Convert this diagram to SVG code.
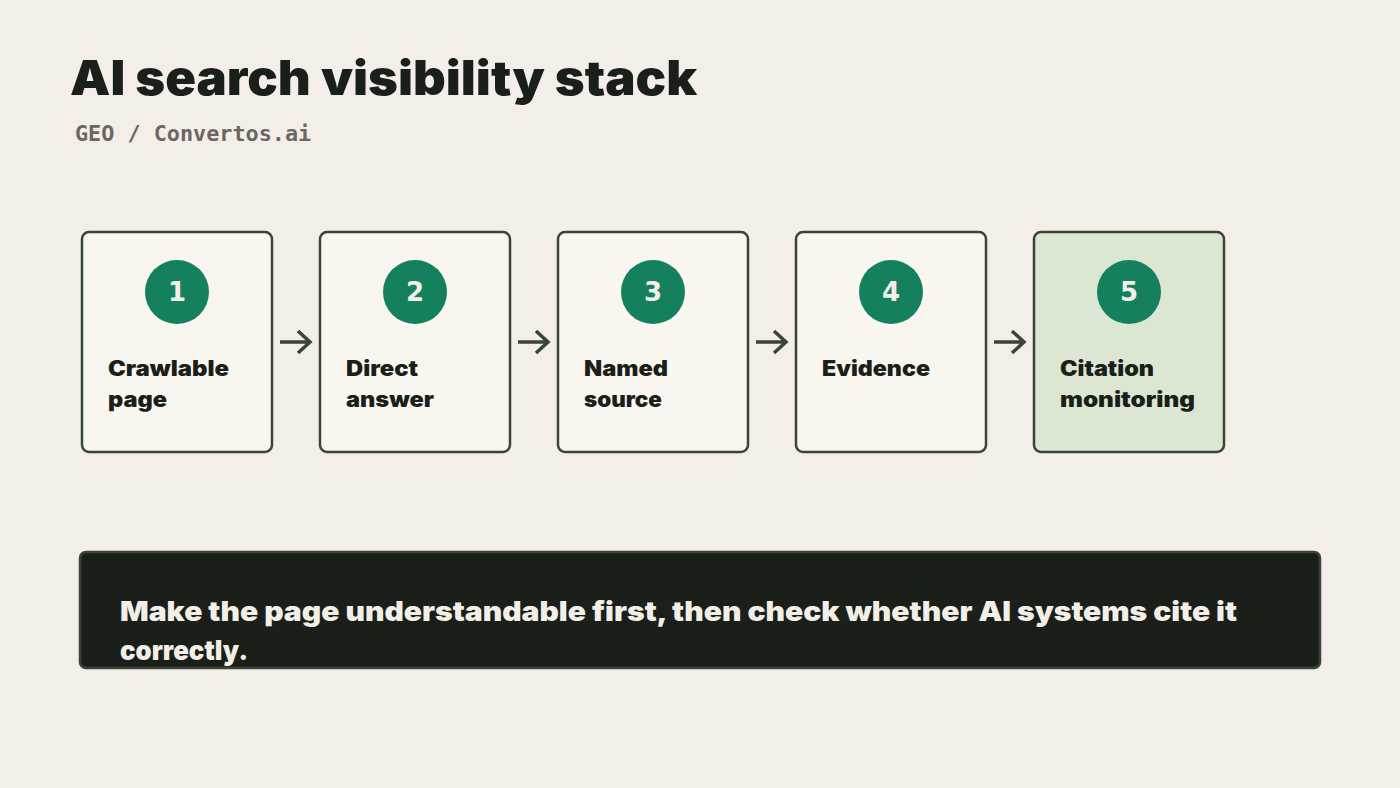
<svg xmlns="http://www.w3.org/2000/svg" width="1400" height="788" viewBox="0 0 1400 788">
<style>
.card{fill:#f9f6f0;stroke:#3a4438;stroke-width:2.5}
.num{fill:#14805e}
.nt{font-family:"DejaVu Sans",sans-serif;font-weight:bold;font-size:26px;fill:#f3efe8;text-anchor:middle}
.lbl{font-family:Inter,Lato,"Liberation Sans",sans-serif;font-weight:900;font-size:21px;fill:#1a2019}
.arr{stroke:#3a4438;stroke-width:3.5;fill:none}
</style>
<rect width="1400" height="788" fill="#f3efe8"/>
<text x="70" y="95" font-family="Inter,Lato,sans-serif" font-weight="900" font-size="48" fill="#1a2019" textLength="627" lengthAdjust="spacingAndGlyphs">AI search visibility stack</text>
<text x="75" y="141" font-family="'DejaVu Sans Mono',monospace" font-weight="bold" font-size="21.8" fill="#6b6660">GEO / Convertos.ai</text>
<g id="n1"><rect class="card" x="82" y="232" width="190" height="220" rx="7"/><circle class="num" cx="177" cy="292" r="32"/><text class="nt" x="177" y="301">1</text><text class="lbl" x="108" y="376" textLength="121" lengthAdjust="spacingAndGlyphs">Crawlable</text><text class="lbl" x="108" y="407" textLength="59" lengthAdjust="spacingAndGlyphs">page</text></g>
<g id="n2"><rect class="card" x="320" y="232" width="190" height="220" rx="7"/><circle class="num" cx="415" cy="292" r="32"/><text class="nt" x="415" y="301">2</text><text class="lbl" x="346" y="376" textLength="72" lengthAdjust="spacingAndGlyphs">Direct</text><text class="lbl" x="346" y="407" textLength="88" lengthAdjust="spacingAndGlyphs">answer</text></g>
<g id="n3"><rect class="card" x="558" y="232" width="190" height="220" rx="7"/><circle class="num" cx="653" cy="292" r="32"/><text class="nt" x="653" y="301">3</text><text class="lbl" x="584" y="376" textLength="84" lengthAdjust="spacingAndGlyphs">Named</text><text class="lbl" x="584" y="407" textLength="78" lengthAdjust="spacingAndGlyphs">source</text></g>
<g id="n4"><rect class="card" x="796" y="232" width="190" height="220" rx="7"/><circle class="num" cx="891" cy="292" r="32"/><text class="nt" x="891" y="301">4</text><text class="lbl" x="822" y="376" textLength="108" lengthAdjust="spacingAndGlyphs">Evidence</text></g>
<g id="n5"><rect class="card" x="1034" y="232" width="190" height="220" rx="7" style="fill:#dbe6d3"/><circle class="num" cx="1129" cy="292" r="32"/><text class="nt" x="1129" y="301">5</text><text class="lbl" x="1060" y="376" textLength="94" lengthAdjust="spacingAndGlyphs">Citation</text><text class="lbl" x="1060" y="407" textLength="135" lengthAdjust="spacingAndGlyphs">monitoring</text></g>
<g id="connectors">
<path class="arr" d="M280 342H309M298 331L310 342L298 353"/>
<path class="arr" d="M518 342H547M536 331L548 342L536 353"/>
<path class="arr" d="M756 342H785M774 331L786 342L774 353"/>
<path class="arr" d="M994 342H1023M1012 331L1024 342L1012 353"/>
</g>
<g id="banner"><rect x="80" y="552" width="1240" height="116" rx="6" fill="#1a2019" stroke="#3a4438" stroke-width="2.5"/>
<text x="120" y="621" font-family="Inter,Lato,sans-serif" font-weight="900" font-size="27" fill="#f3efe8" textLength="1117" lengthAdjust="spacingAndGlyphs">Make the page understandable first, then check whether AI systems cite it</text>
<text x="120" y="660" font-family="Inter,Lato,sans-serif" font-weight="900" font-size="27" fill="#f3efe8" textLength="128" lengthAdjust="spacingAndGlyphs">correctly.</text></g>
</svg>
